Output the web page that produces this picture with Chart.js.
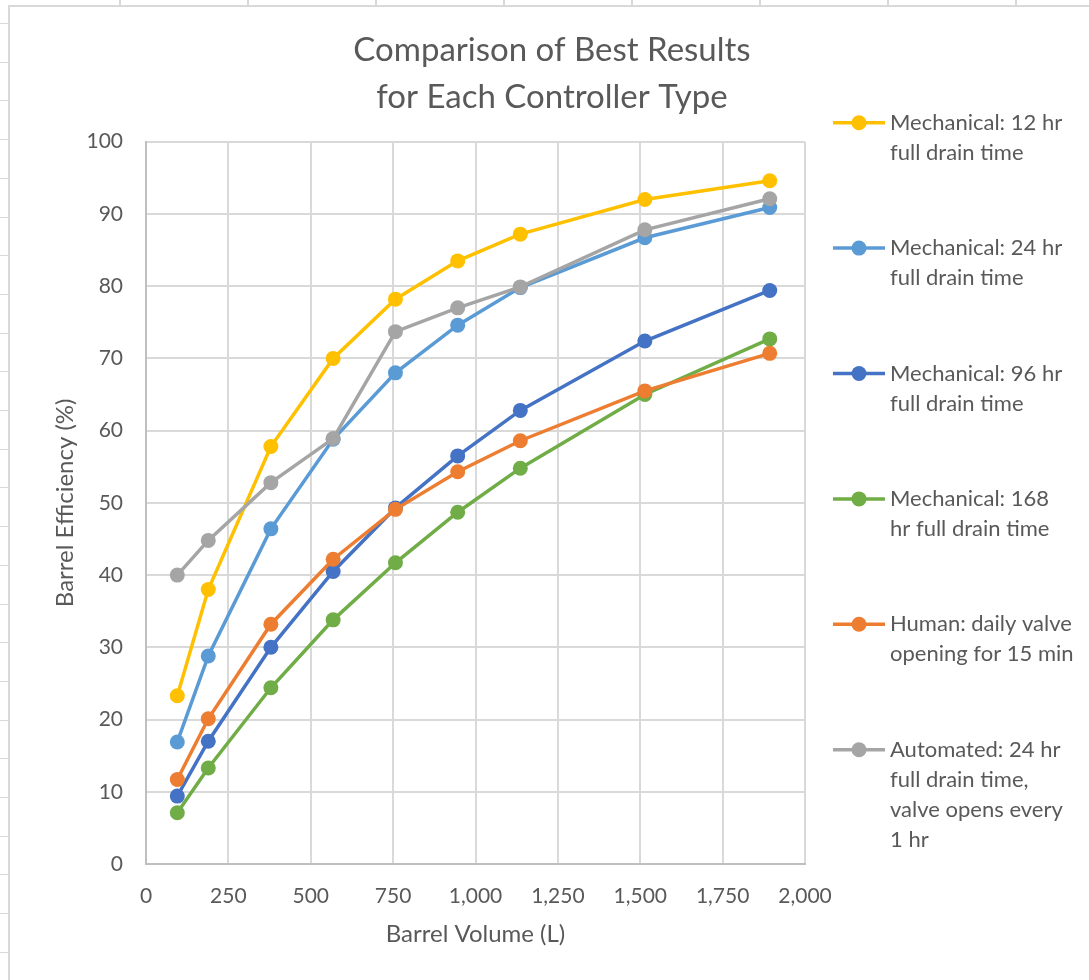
<!DOCTYPE html>
<html>
<head>
<meta charset="utf-8">
<script src="https://cdn.jsdelivr.net/npm/chart.js@4.4.1/dist/chart.umd.min.js"></script>
<style>
  html, body { margin: 0; padding: 0; background: #fff; }
  body { width: 1089px; height: 980px; position: relative; overflow: hidden; }
  .sheet-top {
    position: absolute; left: 0; top: 0; width: 1089px; height: 6px;
    background: repeating-linear-gradient(to right, transparent 0 119px, #d9d9d9 119px 121px, transparent 121px 128px);
  }
  .sheet-left {
    position: absolute; left: 0; top: 0; width: 8px; height: 980px;
    background: repeating-linear-gradient(to bottom, transparent 0 23px, #d9d9d9 23px 24px, transparent 24px 38.7px);
  }
  .frame {
    position: absolute; left: 8px; top: 5px; right: 0; bottom: 0;
    background: #fff; border-left: 2px solid #d9d9d9; border-top: 2px solid #d9d9d9;
  }
  .wrap { position: absolute; left: 0; top: 0; width: 1089px; height: 980px; }
</style>
</head>
<body>
<div class="sheet-top"></div>
<div class="sheet-left"></div>
<div class="frame"></div>
<div class="wrap"><canvas id="chart"></canvas></div>
<script>
// barrel volumes (L)
const volumes = [95, 189, 379, 568, 757, 946, 1136, 1514, 1893];

const mech12 = [23.3, 38.0, 57.8, 70.0, 78.2, 83.5, 87.2, 92.0, 94.6];
const mech24 = [16.9, 28.8, 46.4, 58.8, 68.0, 74.6, 79.8, 86.7, 90.9];
const mech96 = [9.4, 17.0, 30.0, 40.5, 49.3, 56.5, 62.8, 72.4, 79.4];
const mech168 = [7.1, 13.3, 24.4, 33.8, 41.7, 48.7, 54.8, 65.0, 72.7];
const human = [11.7, 20.1, 33.2, 42.2, 49.1, 54.3, 58.6, 65.5, 70.7];
const automated = [40.0, 44.8, 52.8, 58.9, 73.7, 77.0, 79.9, 87.8, 92.1];

const seriesLabels = [
  ['Mechanical: 12 hr', 'full drain time'],
  ['Mechanical: 24 hr', 'full drain time'],
  ['Mechanical: 96 hr', 'full drain time'],
  ['Mechanical: 168', 'hr full drain time'],
  ['Human: daily valve', 'opening for 15 min'],
  ['Automated: 24 hr', 'full drain time,', 'valve opens every', '1 hr']
];
const seriesColors = ['#FFC000', '#5B9BD5', '#4472C4', '#70AD47', '#ED7D31', '#A5A5A5'];
const seriesData = [mech12, mech24, mech96, mech168, human, automated];
const drawOrder = [5, 4, 3, 2, 1, 0];

const yTicks = [0, 10, 20, 30, 40, 50, 60, 70, 80, 90, 100];

const textColor = '#595959';
const fontFamily = 'Lato, "Open Sans", sans-serif';
Chart.defaults.font.family = fontFamily;
Chart.defaults.color = textColor;

const datasets = seriesData.map((vals, i) => ({
  label: seriesLabels[i].join(' '),
  data: vals.map((v, j) => ({ x: volumes[j], y: v })),
  borderColor: seriesColors[i],
  backgroundColor: seriesColors[i],
  borderWidth: 3.5,
  pointRadius: 7.5,
  pointHoverRadius: 7.5,
  pointBorderWidth: 0,
  tension: 0,
  order: drawOrder[i]
}));

// multi-line legend on the right, as a layout box so the title still spans the full width
const sideLegend = {
  id: 'sideLegend',
  beforeInit(chart) {
    const box = {
      position: 'right',
      weight: 10,
      fullSize: false,
      options: {},
      isHorizontal: () => false,
      update(maxW, maxH) { this.width = 284; this.height = maxH; },
      draw() {
        const ctx = chart.ctx;
        const area = chart.chartArea;
        const x0 = this.left + 28;
        const lineH = 30;
        const step = 125.4;
        ctx.save();
        ctx.font = '22px ' + fontFamily;
        ctx.textBaseline = 'middle';
        seriesLabels.forEach((lines, i) => {
          const y = area.top - 19 + i * step;
          ctx.strokeStyle = seriesColors[i];
          ctx.lineWidth = 3.5;
          ctx.beginPath();
          ctx.moveTo(x0, y);
          ctx.lineTo(x0 + 52, y);
          ctx.stroke();
          ctx.fillStyle = seriesColors[i];
          ctx.beginPath();
          ctx.arc(x0 + 26, y, 7.5, 0, Math.PI * 2);
          ctx.fill();
          ctx.fillStyle = textColor;
          lines.forEach((t, k) => ctx.fillText(t, x0 + 57, y + k * lineH));
        });
        ctx.restore();
      }
    };
    Chart.layouts.addBox(chart, box);
  }
};

new Chart(document.getElementById('chart'), {
  type: 'line',
  data: { datasets },
  plugins: [sideLegend],
  options: {
    responsive: true,
    maintainAspectRatio: false,
    animation: false,
    layout: { padding: { left: 15, right: 0, top: 0, bottom: 27 } },
    plugins: {
      legend: { display: false },
      tooltip: { enabled: false },
      title: {
        display: true,
        text: ['Comparison of Best Results', 'for Each Controller Type'],
        color: textColor,
        font: { size: 33, weight: 'normal', lineHeight: 1.45 },
        padding: { top: 26, bottom: 20 }
      }
    },
    scales: {
      x: {
        type: 'linear',
        min: 0,
        max: 2000,
        ticks: {
          stepSize: 250,
          padding: 20,
          font: { size: 21 },
          callback: v => v.toLocaleString('en-US')
        },
        grid: { color: '#D9D9D9', lineWidth: 2, drawTicks: false },
        border: { color: '#BFBFBF', width: 2 },
        title: {
          display: true,
          text: 'Barrel Volume (L)',
          font: { size: 24 },
          padding: { top: 4, bottom: 4 }
        },
        afterFit: s => { s.height = 89; }
      },
      y: {
        min: 0,
        max: 100,
        afterBuildTicks: s => { s.ticks = yTicks.map(v => ({ value: v })); },
        ticks: { padding: 23, font: { size: 21 } },
        grid: { color: '#D9D9D9', lineWidth: 2, drawTicks: false },
        border: { color: '#BFBFBF', width: 2 },
        title: {
          display: true,
          text: 'Barrel Efficiency (%)',
          font: { size: 24 },
          padding: { top: 36, bottom: 4 }
        },
        afterFit: s => { s.width = 131; }
      }
    }
  }
});
</script>
</body>
</html>
